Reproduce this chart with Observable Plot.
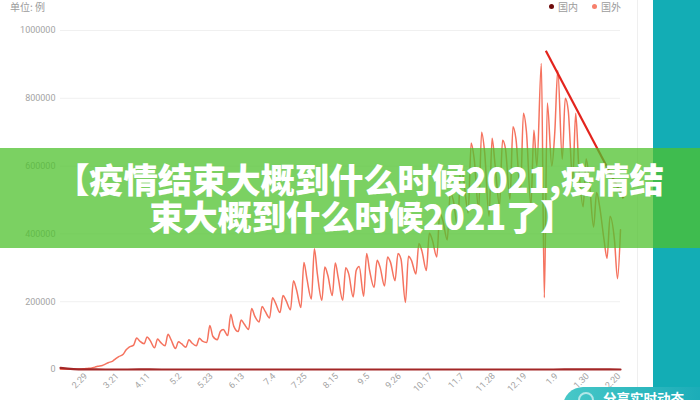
<!DOCTYPE html>
<html>
<head>
<meta charset="utf-8">
<script src="https://cdn.jsdelivr.net/npm/d3@7"></script>
<script src="https://cdn.jsdelivr.net/npm/@observablehq/plot@0.6"></script>
<style>
html,body{margin:0;padding:0;background:#fff;width:700px;height:400px;overflow:hidden;font-family:"Noto Sans CJK SC","Noto Sans",sans-serif;}
#wrap{position:relative;width:700px;height:400px;overflow:hidden;}
#chart{position:absolute;left:0;top:0;}
.unit{position:absolute;left:10px;top:0px;font-size:10px;color:#9c9c9c;line-height:14px;}
.legend{position:absolute;top:0px;font-size:10px;color:#9c9c9c;line-height:14px;white-space:nowrap;}
.legend i{display:inline-block;width:5px;height:5px;border-radius:50%;margin-right:4px;vertical-align:2px;}
.border{position:absolute;left:637px;top:0;width:1px;height:400px;background:#efefef;}
.teal{position:absolute;left:653px;top:0;width:47px;height:400px;background:#13adb5;}
.banner{position:absolute;left:0;top:148px;width:700px;height:100px;background:rgba(79,193,45,0.75);}
.t{position:absolute;left:149px;top:160px;text-indent:-94px;color:#fff;font-weight:900;font-size:34.5px;line-height:37px;letter-spacing:-0.25px;white-space:nowrap;}
.btn{position:absolute;left:563px;top:387px;width:160px;height:40px;border-radius:20px;background:linear-gradient(90deg,#48c8c8,#14a8b5);}
.btn .ic{position:absolute;left:15px;top:5px;width:12px;height:12px;border-radius:50%;border:2px solid rgba(255,255,255,0.6);}
.btn .tx{position:absolute;left:40px;top:2px;font-size:13.5px;font-weight:700;color:#fff;white-space:nowrap;line-height:18px;}
</style>
</head>
<body>
<div id="wrap">
  <div id="chart"></div>
  <div class="unit">单位: 例</div>
  <div class="legend" style="left:549px"><i style="background:#6e0b0b"></i>国内</div>
  <div class="legend" style="left:592px"><i style="background:#f7806c"></i>国外</div>
  <div class="border"></div>
  <div class="teal"></div>
  <div class="banner"></div>
  <div class="t">【疫情结束大概到什么时候2021,疫情结<br>束大概到什么时候2021了】</div>
  <div class="btn"><div class="ic"></div><div class="tx">分享实时动态</div></div>
</div>
<script>
// ---- data ----
const startDate = "2020-02-12";
const endDate = "2021-02-21";
// 国外: three readings per week (week day offsets 0, 2, 4), weeks starting 2020-02-12
const weekOffsets = [0, 2, 4];
const foreignCases = [
  400, 700, 500,
  600, 900, 1100,
  1500, 2500, 3200,
  4500, 7000, 9500,
  12000, 16000, 20000,
  25000, 32000, 38000,
  45000, 58000, 66000,
  72000, 93000, 84000,
  76000, 96000, 86000,
  64000, 90000, 80000,
  70000, 104000, 88000,
  62000, 82000, 76000,
  66000, 88000, 78000,
  70000, 92000, 84000,
  80000, 130000, 98000,
  88000, 112000, 118000,
  100000, 163000, 128000,
  112000, 146000, 134000,
  118000, 180000, 158000,
  140000, 186000, 172000,
  152000, 212000, 196000,
  168000, 218000, 204000,
  176000, 262000, 236000,
  183000, 316000, 268000,
  208000, 356000, 282000,
  204000, 302000, 278000,
  218000, 314000, 270000,
  204000, 300000, 282000,
  214000, 292000, 304000,
  216000, 342000, 292000,
  242000, 322000, 302000,
  246000, 332000, 316000,
  262000, 342000, 326000,
  198000, 334000, 322000,
  282000, 372000, 350000,
  292000, 402000, 382000,
  332000, 462000, 440000,
  382000, 522000, 500000,
  420000, 600000, 560000,
  462000, 668000, 622000,
  472000, 700000, 642000,
  452000, 682000, 604000,
  482000, 676000, 650000,
  502000, 716000, 680000,
  522000, 756000, 702000,
  482000, 706000, 600000,
  903000, 212000, 786000,
  600000, 700000, 882000,
  620000, 800000, 764000,
  560000, 756000, 602000,
  480000, 622000, 562000,
  420000, 522000, 482000,
  382000, 328000, 452000,
  380000, 268000, 412000
];
// 国内: one reading every 15 days from 2020-02-12
const domesticStep = 15;
const domesticCases = [5000, 400, 30, 50, 90, 5, 10, 15, 20, 30, 25, 40, 60, 30, 20, 25, 20, 15, 25, 20, 30, 40, 60, 110, 130, 30];
const xTickDates = ["2020-02-29","2020-03-21","2020-04-11","2020-05-02","2020-05-23","2020-06-13","2020-07-04","2020-07-25","2020-08-15","2020-09-05","2020-09-26","2020-10-17","2020-11-07","2020-11-28","2020-12-19","2021-01-09","2021-01-30","2021-02-20"];
const yTicks = [0, 200000, 400000, 600000, 800000, 1000000];
// red annotation stroke drawn over the chart (date, value)
const annotation = [["2021-01-02", 940000], ["2021-02-23", 505000]];

// ---- build ----
const DAY = 86400000;
const t0 = new Date(startDate + "T00:00:00Z").getTime();
const foreign = foreignCases.map((v, i) => ({
  date: new Date(t0 + (7 * Math.floor(i / 3) + weekOffsets[i % 3]) * DAY), value: v
}));
const domestic = domesticCases.map((v, i) => ({date: new Date(t0 + i * domesticStep * DAY), value: v}));
const ticks = xTickDates.map(s => new Date(s + "T00:00:00Z"));
const ann = [{x1: new Date(annotation[0][0] + "T00:00:00Z"), y1: annotation[0][1], x2: new Date(annotation[1][0] + "T00:00:00Z"), y2: annotation[1][1]}];

const chart = Plot.plot({
  width: 700,
  height: 400,
  marginLeft: 60,
  marginRight: 80,
  marginTop: 30,
  marginBottom: 31,
  style: {fontSize: "9px", fontFamily: "Roboto, 'Liberation Sans', sans-serif", color: "#a4a4a4", background: "transparent", overflow: "visible"},
  x: {type: "utc", domain: [new Date(startDate + "T00:00:00Z"), new Date(endDate + "T00:00:00Z")], label: null},
  y: {domain: [0, 1000000], label: null},
  marks: [
    Plot.gridY(yTicks, {stroke: "#f0f0f0", strokeOpacity: 1, strokeWidth: 1}),
    Plot.axisY(yTicks, {tickSize: 0, tickPadding: 5, tickFormat: d => String(d), label: null}),
    Plot.axisX(ticks, {tickSize: 0, tickPadding: 5, tickRotate: -45, tickFormat: d => `${d.getUTCMonth() + 1}.${d.getUTCDate()}`, label: null}),
    Plot.line(foreign, {x: "date", y: "value", stroke: "#f5735f", strokeWidth: 1.5, curve: "monotone-x"}),
    Plot.line(domestic, {x: "date", y: "value", stroke: "#a32626", strokeWidth: 2.2, curve: "monotone-x"}),
    Plot.link(ann, {x1: "x1", y1: "y1", x2: "x2", y2: "y2", stroke: "#e3241d", strokeWidth: 2.2})
  ]
});
document.getElementById("chart").appendChild(chart);
</script>
</body>
</html>
